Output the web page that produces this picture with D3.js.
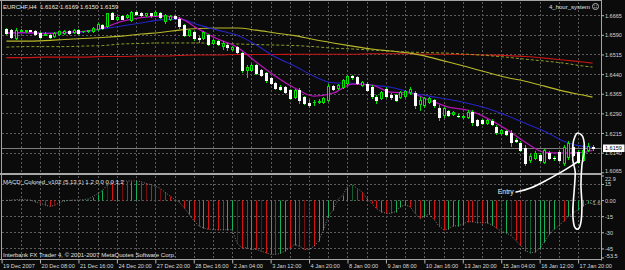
<!DOCTYPE html>
<html><head><meta charset="utf-8"><title>EURCHF H4</title>
<script src="https://cdn.jsdelivr.net/npm/d3@7/dist/d3.min.js"></script>
<style>html,body{margin:0;padding:0;background:#0b0b0b;overflow:hidden}svg{display:block}</style>
</head><body><svg id="chart" width="625" height="270"></svg>
<script>
// ---------- data ----------
const symbol = "EURCHF,H4";
const indicatorName = "4_hour_system";
const macdTitle = "MACD_Colored_v102 (5,13,1) 1.2 0.0 0.0 1.2";
const copyright = "Interbank FX Trader 4, \u00A9 2001-2007 MetaQuotes Software Corp.";
const lastOHLC = [1.6162, 1.6169, 1.6150, 1.6159];

const opens = [
1.6612,1.6608,1.6578,1.6607,1.6605,1.6607,1.6605,1.6597,1.6594,1.6589,
1.6587,1.6595,1.6597,1.6605,1.6599,1.6608,1.6603,1.6605,1.6603,1.6614,
1.6628,1.6624,1.6672,1.6652,1.6662,1.6658,1.6647,1.6677,1.6673,1.6666,
1.6672,1.6666,1.6673,1.6641,1.6652,1.6662,1.6652,1.6628,1.6589,1.6601,
1.6578,1.6578,1.6589,1.6559,1.6566,1.6547,1.6551,1.6536,1.6543,1.6520,
1.6455,1.6455,1.6474,1.6455,1.6444,1.6425,1.6405,1.6392,1.6390,1.6379,
1.6352,1.6379,1.6352,1.6329,1.6333,1.6336,1.6333,1.6341,1.6394,1.6387,
1.6390,1.6405,1.6432,1.6428,1.6398,1.6402,1.6390,1.6352,1.6348,1.6383,
1.6360,1.6360,1.6352,1.6356,1.6371,1.6367,1.6325,1.6321,1.6333,1.6341,
1.6310,1.6283,1.6298,1.6287,1.6281,1.6279,1.6275,1.6295,1.6264,1.6264,
1.6252,1.6260,1.6237,1.6214,1.6222,1.6214,1.6187,1.6176,1.6159,1.6111,
1.6119,1.6130,1.6103,1.6138,1.6120,1.6141,1.6099,1.6122,1.6161,1.6141,
1.6111,1.6149,1.6162];
const highs = [
1.6616,1.6612,1.6616,1.6612,1.6610,1.6610,1.6608,1.6601,1.6601,1.6593,
1.6599,1.6605,1.6608,1.6608,1.6612,1.6612,1.6606,1.6610,1.6620,1.6635,
1.6631,1.6673,1.6677,1.6662,1.6666,1.6670,1.6681,1.6681,1.6677,1.6675,
1.6675,1.6681,1.6677,1.6670,1.6666,1.6666,1.6658,1.6631,1.6612,1.6605,
1.6585,1.6603,1.6593,1.6574,1.6570,1.6566,1.6559,1.6547,1.6547,1.6524,
1.6474,1.6478,1.6478,1.6459,1.6447,1.6428,1.6409,1.6398,1.6394,1.6383,
1.6383,1.6387,1.6356,1.6341,1.6341,1.6344,1.6352,1.6402,1.6398,1.6402,
1.6421,1.6436,1.6436,1.6432,1.6413,1.6409,1.6398,1.6360,1.6375,1.6390,
1.6367,1.6364,1.6375,1.6379,1.6390,1.6375,1.6352,1.6352,1.6352,1.6344,
1.6321,1.6314,1.6302,1.6298,1.6287,1.6285,1.6302,1.6302,1.6268,1.6268,
1.6268,1.6268,1.6245,1.6230,1.6226,1.6226,1.6195,1.6184,1.6168,1.6134,
1.6145,1.6138,1.6153,1.6145,1.6126,1.6149,1.6168,1.6184,1.6168,1.6149,
1.6168,1.6176,1.6169];
const lows = [
1.6593,1.6578,1.6574,1.6605,1.6601,1.6603,1.6589,1.6578,1.6589,1.6578,
1.6582,1.6591,1.6593,1.6595,1.6597,1.6595,1.6599,1.6601,1.6601,1.6610,
1.6612,1.6620,1.6650,1.6647,1.6650,1.6654,1.6643,1.6666,1.6662,1.6662,
1.6660,1.6662,1.6654,1.6637,1.6647,1.6650,1.6618,1.6585,1.6585,1.6570,
1.6562,1.6574,1.6551,1.6555,1.6551,1.6536,1.6532,1.6532,1.6520,1.6447,
1.6428,1.6451,1.6440,1.6432,1.6409,1.6402,1.6383,1.6379,1.6367,1.6344,
1.6348,1.6329,1.6325,1.6314,1.6321,1.6329,1.6329,1.6337,1.6379,1.6383,
1.6387,1.6402,1.6421,1.6402,1.6394,1.6375,1.6348,1.6329,1.6344,1.6352,
1.6344,1.6337,1.6348,1.6352,1.6364,1.6310,1.6302,1.6314,1.6329,1.6314,
1.6264,1.6275,1.6279,1.6283,1.6275,1.6272,1.6272,1.6245,1.6241,1.6249,
1.6249,1.6245,1.6211,1.6211,1.6207,1.6164,1.6180,1.6145,1.6092,1.6103,
1.6115,1.6107,1.6099,1.6115,1.6111,1.6107,1.6092,1.6115,1.6126,1.6099,
1.6107,1.6145,1.6150];
const closes = [
1.6597,1.6582,1.6608,1.6608,1.6608,1.6606,1.6593,1.6582,1.6595,1.6582,
1.6597,1.6603,1.6605,1.6597,1.6610,1.6597,1.6603,1.6608,1.6616,1.6631,
1.6616,1.6672,1.6652,1.6660,1.6652,1.6666,1.6677,1.6670,1.6666,1.6672,
1.6664,1.6677,1.6658,1.6666,1.6662,1.6654,1.6622,1.6589,1.6608,1.6578,
1.6576,1.6599,1.6555,1.6570,1.6555,1.6559,1.6543,1.6543,1.6524,1.6455,
1.6466,1.6474,1.6444,1.6436,1.6417,1.6405,1.6387,1.6383,1.6371,1.6348,
1.6379,1.6341,1.6329,1.6321,1.6333,1.6337,1.6348,1.6394,1.6383,1.6398,
1.6417,1.6432,1.6428,1.6405,1.6409,1.6379,1.6356,1.6341,1.6371,1.6356,
1.6352,1.6341,1.6371,1.6375,1.6383,1.6321,1.6341,1.6348,1.6348,1.6321,
1.6275,1.6310,1.6283,1.6295,1.6279,1.6281,1.6295,1.6256,1.6245,1.6252,
1.6264,1.6249,1.6218,1.6226,1.6211,1.6180,1.6186,1.6149,1.6099,1.6126,
1.6138,1.6111,1.6149,1.6119,1.6119,1.6111,1.6161,1.6176,1.6130,1.6103,
1.6149,1.6164,1.6159];

// moving averages, read at every 4th bar
const maIndex = [0,4,8,12,16,20,24,28,32,36,40,44,48,52,56,60,64,68,72,76,80,84,88,92,96,100,104,108,112,116,120,122];
const maFast = [1.6597,1.6599,1.6595,1.6599,1.6603,1.6616,1.6641,1.6656,1.6662,1.6654,1.6612,1.6574,1.6543,1.6486,1.6432,1.6387,
                1.6356,1.6367,1.6402,1.6398,1.6371,1.6367,1.6341,1.6314,1.6302,1.6272,1.6230,1.6180,1.6141,1.6138,1.6141,1.6149];
const maMid = [1.6597,1.6597,1.6597,1.6597,1.6601,1.6612,1.6624,1.6635,1.6647,1.6650,1.6628,1.6608,1.6589,1.6551,1.6505,1.6471,
               1.6432,1.6407,1.6405,1.6398,1.6390,1.6371,1.6356,1.6344,1.6329,1.6310,1.6283,1.6252,1.6222,1.6184,1.6164,1.6161];
const maLong = [1.6566,1.6566,1.6568,1.6572,1.6576,1.6580,1.6585,1.6593,1.6599,1.6608,1.6614,1.6616,1.6616,1.6608,1.6597,1.6587,
                1.6572,1.6559,1.6547,1.6536,1.6528,1.6520,1.6505,1.6486,1.6467,1.6447,1.6428,1.6413,1.6394,1.6375,1.6360,1.6352];
const maLongDash = [1.6543,1.6545,1.6545,1.6545,1.6547,1.6549,1.6555,1.6557,1.6559,1.6559,1.6559,1.6557,1.6555,1.6553,1.6551,1.6549,
                    1.6545,1.6539,1.6536,1.6532,1.6528,1.6524,1.6522,1.6520,1.6516,1.6511,1.6505,1.6497,1.6490,1.6482,1.6471,1.6467];
const ma200 = [1.6503,1.6503,1.6505,1.6505,1.6505,1.6507,1.6507,1.6509,1.6509,1.6511,1.6513,1.6513,1.6515,1.6515,1.6515,1.6516,
               1.6516,1.6516,1.6516,1.6518,1.6518,1.6518,1.6516,1.6516,1.6515,1.6513,1.6511,1.6507,1.6501,1.6494,1.6486,1.6482];

const macd = [
-0.3,0,0.5,0.6,0.3,0,-1.5,-2.8,-4.5,-5.8,
-5,-2.5,-0.8,-0.3,0,0,0.4,1,3.3,6,
9,14,16.5,17.3,17.6,17.8,17.9,17.7,17.3,15.5,
14.5,13,11,7.5,4,0.8,-2,-7,-13,-19,
-24,-26,-27,-27.6,-27.6,-27.6,-27.6,-27.6,-40,-44.5,
-44.5,-46,-46,-47.5,-49,-50.6,-50.6,-49.7,-47.5,-44.5,
-41.4,-43,-46,-46,-43,-38.3,-27.6,-15.3,-9.2,0.5,
4.6,12.3,14.7,10.7,7.7,1.5,-3,-7.7,-10.7,-12.3,
-12.3,-10.7,-6.1,-4.6,-6,-12,-17,-15,-13,-18,
-24,-27.5,-27,-24,-24,-22.5,-20,-20,-21,-21,
-21,-23,-26,-29,-30.5,-33,-37.5,-42,-47,-49,
-48.5,-45,-39,-32,-27,-24,-19.5,-15,-12,-9,
-5.5,-3,-1.6];
// g = green, r = red, capital = dotted bar
const macdColors = ("gggggg rRrr Rggggg rggg gRrgRrggrR rrRrrrrrgr rgrGrrggRr rgrRrgrggr grRRrggggg ggGrrgrrgr rgggrrrggr rrggggrrrr ggrRgRrrrG gggggrrggg ggg").replace(/ /g,"").split("");

const timeLabels = ["19 Dec 2007","20 Dec 08:00","21 Dec 16:00","24 Dec 20:00","27 Dec 20:00","28 Dec 16:00","2 Jan 04:00","3 Jan 12:00",
                    "4 Jan 20:00","8 Jan 00:00","9 Jan 08:00","10 Jan 16:00","13 Jan 20:00","15 Jan 04:00","16 Jan 12:00","17 Jan 20:00"];
const timeLabelBars = [-1,7,15,23,31,39,47,55,63,71,79,87,95,103,111,119];
const priceTicks = [1.6665,1.6590,1.6515,1.6440,1.6365,1.6290,1.6215,1.6140,1.6065];
const macdTicks = [22.9,15,0,-15,-30,-45,-53.5];
const macdTickLabels = ["22.9","15","0.00","-15","-30","-45","-53.5"];
const macdGrid = [15,0,-15,-30,-45];

// hand-drawn annotation, in bar index / panel value terms
const loopPts = [[119.0,"p",1.6215],[120.0,"p",1.6200],[120.3,"p",1.6150],[119.8,"p",1.6093],[119.6,"m",14],[119.8,"m",-4.6],
                 [119.6,"m",-20.4],[119.0,"m",-27],[118.2,"m",-24.2],[117.9,"m",-9.2],[118.2,"m",9.4],[118.4,"p",1.6066],
                 [117.9,"p",1.6112],[117.9,"p",1.6169],[118.4,"p",1.6204]];
const entryPts = [[106.1,"m",7.5],[109.0,"m",10.3],[112.5,"m",18.7],[115.2,"p",1.6062],[117.9,"p",1.6093],[119.3,"p",1.6110]];

// ---------- drawing ----------
const FONT = "'Liberation Sans', Arial, sans-serif";
const W = 625, H = 270;
const L = 2, R = 601, MT = 2, MB = 172, ST = 176, SB = 258.5, AXY = 259.5;
const svg = d3.select("#chart");
const x = d3.scaleLinear().domain([0, 122]).range([6.4, 592.5]);
const yP = d3.scaleLinear().domain([1.6065, 1.6665]).range([172.3, 15.2]);
const yM = d3.scaleLinear().domain([-53.5, 22.9]).range([257.5, 175.5]);
const px = v => Math.round(v) + 0.5;
const yAny = (panel, v) => panel === "p" ? yP(v) : yM(v);

svg.append("rect").attr("width", W).attr("height", H).attr("fill", "#0b0b0b");
const defs = svg.append("defs");
defs.append("clipPath").attr("id", "cm").append("rect").attr("x", L).attr("y", MT).attr("width", R - L).attr("height", MB - MT);
defs.append("clipPath").attr("id", "cs").append("rect").attr("x", L).attr("y", ST).attr("width", R - L).attr("height", SB - ST);

// grid
const gridBars = d3.range(3, 123, 4);
const grid = svg.append("g").attr("stroke", "#5c5c5c").attr("stroke-width", 1).attr("stroke-dasharray", "2,2");
grid.selectAll(".vm").data(gridBars).join("line").attr("class","vm").attr("x1", d => px(x(d))).attr("x2", d => px(x(d))).attr("y1", MT).attr("y2", MB);
grid.selectAll(".vs").data(gridBars).join("line").attr("class","vs").attr("x1", d => px(x(d))).attr("x2", d => px(x(d))).attr("y1", ST).attr("y2", SB);
grid.selectAll(".hm").data(priceTicks.slice(0, -1)).join("line").attr("class","hm").attr("x1", L).attr("x2", R).attr("y1", d => px(yP(d))).attr("y2", d => px(yP(d)));
grid.selectAll(".hs").data(macdGrid).join("line").attr("class","hs").attr("x1", L).attr("x2", R).attr("y1", d => px(yM(d))).attr("y2", d => px(yM(d)));

// current price line
const lastClose = closes[closes.length - 1];
svg.append("line").attr("x1", L).attr("x2", R).attr("y1", px(yP(lastClose))).attr("y2", px(yP(lastClose)))
   .attr("stroke", "#7c7c7c").attr("stroke-width", 1);

// moving averages
const main = svg.append("g").attr("clip-path", "url(#cm)");
const maLine = d3.line().x((d, i) => x(maIndex[i])).y(d => yP(d)).curve(d3.curveMonotoneX);
[[ma200, "#c81414", null, 1.1], [maLongDash, "#8c9e26", "3,2", 1], [maLong, "#b9b92a", null, 1.1],
 [maMid, "#2424c4", null, 1.1], [maFast, "#b414b4", null, 1.3]].forEach(([data, col, dash, w]) => {
  main.append("path").attr("d", maLine(data)).attr("fill", "none").attr("stroke", col)
      .attr("stroke-width", w).attr("stroke-dasharray", dash);
});

// candles
const LIME = "#00e400";
const idx = d3.range(closes.length);
const cg = main.append("g");
cg.selectAll(".wick").data(idx).join("line").attr("class", "wick")
  .attr("x1", j => Math.round(x(j)) + 0.5).attr("x2", j => Math.round(x(j)) + 0.5)
  .attr("y1", j => Math.round(yP(highs[j]))).attr("y2", j => Math.round(yP(lows[j])) + 1)
  .attr("stroke", LIME).attr("stroke-width", 1);
idx.forEach(j => {
  const cx = Math.round(x(j)), o = opens[j], c = closes[j];
  const top = Math.round(yP(Math.max(o, c))), bot = Math.round(yP(Math.min(o, c)));
  if (c < o) {
    cg.append("rect").attr("x", cx - 1).attr("y", top).attr("width", 3).attr("height", Math.max(1, bot - top + 1)).attr("fill", "#ffffff");
  } else if (c > o) {
    cg.append("rect").attr("x", cx - 0.5).attr("y", top + 0.5).attr("width", 2).attr("height", Math.max(1, bot - top))
      .attr("fill", "#0b0b0b").attr("stroke", LIME).attr("stroke-width", 1);
  } else {
    cg.append("line").attr("x1", cx - 1).attr("x2", cx + 2).attr("y1", top + 0.5).attr("y2", top + 0.5).attr("stroke", LIME);
  }
});

// MACD histogram
const sub = svg.append("g").attr("clip-path", "url(#cs)");
sub.selectAll(".hb").data(idx).join("line").attr("class", "hb")
  .attr("x1", j => px(x(j))).attr("x2", j => px(x(j)))
  .attr("y1", px(yM(0))).attr("y2", j => Math.round(yM(macd[j])) + 0.5)
  .attr("stroke", j => (macdColors[j] || "g").toLowerCase() === "r" ? "#d41414" : "#17b05a")
  .attr("stroke-width", 1)
  .attr("stroke-dasharray", j => /[RG]/.test(macdColors[j] || "") ? "1,1" : null);
sub.append("path").attr("d", d3.line().x((d, j) => x(j)).y(d => yM(d))(macd))
   .attr("fill", "none").attr("stroke", "#9a9a9a").attr("stroke-width", 0.8).attr("stroke-dasharray", "1,1.6");

// frame
const frame = svg.append("g").attr("stroke", "#a4a4a4").attr("stroke-width", 1);
frame.append("line").attr("x1", 0).attr("x2", R + 1).attr("y1", 0.5).attr("y2", 0.5);
frame.append("line").attr("x1", 1.5).attr("x2", 1.5).attr("y1", 0).attr("y2", AXY);
frame.append("line").attr("x1", R + 0.5).attr("x2", R + 0.5).attr("y1", 0).attr("y2", AXY + 1);
frame.append("line").attr("x1", 0).attr("x2", R + 1).attr("y1", AXY).attr("y2", AXY);
svg.append("rect").attr("x", 0).attr("y", 173).attr("width", R + 1).attr("height", 2).attr("fill", "#a8a8a8");

// axes
const styleAxis = g => {
  g.attr("font-family", FONT).attr("font-size", 5.5);
  g.select(".domain").remove();
  g.selectAll(".tick line").attr("stroke", "#b4b4b4");
  g.selectAll(".tick text").attr("fill", "#d8d8d8");
};
const pAxis = svg.append("g").attr("transform", `translate(${R},0)`)
  .call(d3.axisRight(yP).tickValues(priceTicks).tickSize(3).tickFormat(d3.format(".4f"))).call(styleAxis);
pAxis.selectAll(".tick text").attr("x", 4).attr("dy", "0.36em").attr("y", d => d === 1.6065 ? -2 : 0);

const mAxis = svg.append("g").attr("transform", `translate(${R},0)`)
  .call(d3.axisRight(yM).tickValues(macdTicks).tickSize(3).tickFormat((d, i) => macdTickLabels[i])).call(styleAxis);
mAxis.selectAll(".tick text").attr("x", 4).attr("dy", "0.36em")
  .attr("y", d => Math.min(Math.max(yM(d), 178.5), 256) - yM(d));

const tAxis = svg.append("g").attr("transform", `translate(0,${AXY})`)
  .call(d3.axisBottom(x).tickValues(timeLabelBars).tickSize(4).tickFormat((d, i) => timeLabels[i])).call(styleAxis);
tAxis.attr("font-size", 5.6);
tAxis.selectAll(".tick text").attr("text-anchor", "start").attr("x", 1).attr("y", 8.3).attr("dy", 0);

// price box
const by = yP(lastClose);
svg.append("rect").attr("x", 603).attr("y", Math.round(by) - 3.5).attr("width", 21.5).attr("height", 7.5).attr("fill", "#ffffff");
svg.append("text").attr("x", 605).attr("y", by).attr("dy", "0.36em").attr("font-family", FONT).attr("font-size", 5.5)
   .attr("fill", "#000").text(d3.format(".4f")(lastClose));

// texts
const f4 = d3.format(".4f");
svg.append("text").attr("x", 3).attr("y", 8.6).attr("font-family", FONT).attr("font-size", 6).attr("fill", "#e6e6e6")
   .attr("xml:space", "preserve").text(symbol + "  " + lastOHLC.map(f4).join(" "));
svg.append("text").attr("x", 590).attr("y", 8.6).attr("text-anchor", "end").attr("font-family", FONT).attr("font-size", 6)
   .attr("fill", "#e0e0e0").text(indicatorName);
const ic = svg.append("g").attr("transform", "translate(595.5,6.5)");
ic.append("circle").attr("r", 3).attr("fill", "none").attr("stroke", "#c8c8c8").attr("stroke-width", 0.9);
ic.append("circle").attr("cx", -1).attr("cy", -0.8).attr("r", 0.45).attr("fill", "#c8c8c8");
ic.append("circle").attr("cx", 1).attr("cy", -0.8).attr("r", 0.45).attr("fill", "#c8c8c8");
ic.append("path").attr("d", "M-1.4,0.8 Q0,2 1.4,0.8").attr("fill", "none").attr("stroke", "#c8c8c8").attr("stroke-width", 0.6);

svg.append("text").attr("x", 3).attr("y", 183.6).attr("font-family", FONT).attr("font-size", 6).attr("fill", "#e0e0e0").text(macdTitle);
svg.append("text").attr("x", 3).attr("y", 256.6).attr("font-family", FONT).attr("font-size", 6).attr("fill", "#e0e0e0").text(copyright);
svg.append("text").attr("x", x(122) - 3).attr("y", yM(macd[macd.length - 1])).attr("dy", "0.5em")
   .attr("font-family", FONT).attr("font-size", 5.6).attr("fill", "#b8b8b8").text(d3.format(".1f")(macd[macd.length - 1]).replace("-", "\u2212"));

// annotation
const ann = svg.append("g").attr("fill", "none").attr("stroke", "#ffffff").attr("stroke-width", 1.6).attr("stroke-linecap", "round");
ann.append("path").attr("d", d3.line().x(d => x(d[0])).y(d => yAny(d[1], d[2])).curve(d3.curveCardinalClosed.tension(0.2))(loopPts));
ann.append("path").attr("d", d3.line().x(d => x(d[0])).y(d => yAny(d[1], d[2])).curve(d3.curveBasis)(entryPts));
svg.append("text").attr("x", x(105.6)).attr("y", yM(6)).attr("text-anchor", "end").attr("font-family", FONT)
   .attr("font-size", 6.8).attr("fill", "#f0f0f0").text("Entry");
</script></body></html>
